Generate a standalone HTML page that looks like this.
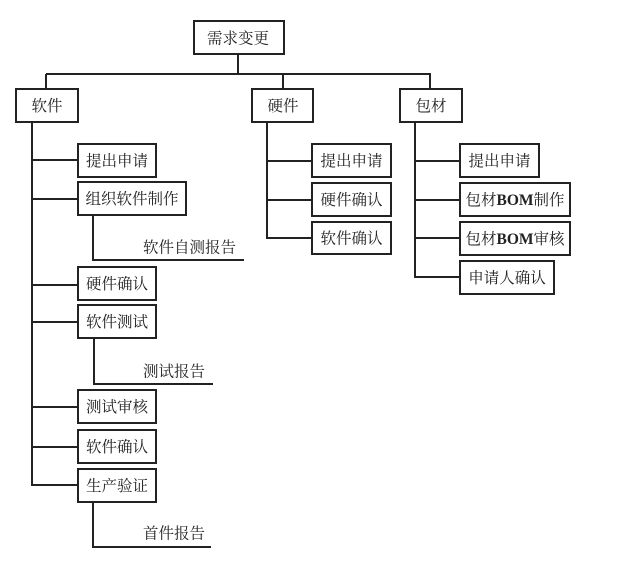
<!DOCTYPE html>
<html><head><meta charset="utf-8"><style>
html,body{margin:0;padding:0;background:#fff;}
svg{display:block;}
text{font-family:"Liberation Serif","Noto Serif CJK SC",serif;font-size:15.5px;fill:#222;}
</style></head><body>
<svg width="624" height="561" viewBox="0 0 624 561" xmlns="http://www.w3.org/2000/svg">
<g stroke="#222" stroke-width="2" fill="none">
<!-- root -->
<rect x="194" y="21" width="90" height="33" fill="#fff"/>
<line x1="238" y1="54" x2="238" y2="74"/>
<line x1="46" y1="74" x2="431" y2="74"/>
<line x1="46" y1="74" x2="46" y2="89"/>
<line x1="283" y1="74" x2="283" y2="89"/>
<line x1="430" y1="74" x2="430" y2="89"/>
<rect x="16" y="89" width="62" height="33"/>
<rect x="252" y="89" width="61" height="33"/>
<rect x="400" y="89" width="62" height="33"/>
<!-- software -->
<line x1="32" y1="122" x2="32" y2="486"/>
<line x1="32" y1="160" x2="78" y2="160"/>
<line x1="32" y1="199" x2="78" y2="199"/>
<line x1="32" y1="285" x2="78" y2="285"/>
<line x1="32" y1="322" x2="78" y2="322"/>
<line x1="32" y1="407" x2="78" y2="407"/>
<line x1="32" y1="447" x2="78" y2="447"/>
<line x1="31" y1="485" x2="78" y2="485"/>
<rect x="78" y="144" width="78" height="33"/>
<rect x="78" y="182" width="108" height="33"/>
<rect x="78" y="267" width="78" height="33"/>
<rect x="78" y="305" width="78" height="33"/>
<rect x="78" y="390" width="78" height="33"/>
<rect x="78" y="430" width="78" height="33"/>
<rect x="78" y="469" width="78" height="33"/>
<polyline points="93,215 93,260 244,260"/>
<polyline points="94,338 94,384 213,384"/>
<polyline points="93,502 93,547 211,547"/>
<!-- hardware -->
<line x1="267" y1="122" x2="267" y2="239"/>
<line x1="267" y1="161" x2="312" y2="161"/>
<line x1="267" y1="200" x2="312" y2="200"/>
<line x1="266" y1="238" x2="312" y2="238"/>
<rect x="312" y="144" width="79" height="33"/>
<rect x="312" y="183" width="79" height="33"/>
<rect x="312" y="222" width="79" height="32"/>
<!-- packaging -->
<line x1="415" y1="122" x2="415" y2="278"/>
<line x1="415" y1="161" x2="460" y2="161"/>
<line x1="415" y1="200" x2="460" y2="200"/>
<line x1="415" y1="238" x2="460" y2="238"/>
<line x1="414" y1="277" x2="460" y2="277"/>
<rect x="460" y="144" width="79" height="33"/>
<rect x="460" y="183" width="110" height="33"/>
<rect x="460" y="222" width="110" height="33"/>
<rect x="460" y="261" width="94" height="33"/>
</g>
<g text-anchor="middle">
<text x="238" y="43.5">需求变更</text>
<text x="47" y="111">软件</text>
<text x="283" y="111">硬件</text>
<text x="431" y="111">包材</text>
<text x="117" y="166">提出申请</text>
<text x="132" y="204">组织软件制作</text>
<text x="117" y="289">硬件确认</text>
<text x="117" y="327">软件测试</text>
<text x="117" y="412">测试审核</text>
<text x="117" y="452">软件确认</text>
<text x="117" y="491">生产验证</text>
<text x="351.5" y="166">提出申请</text>
<text x="351.5" y="205">硬件确认</text>
<text x="351.5" y="243.5">软件确认</text>
<text x="499.5" y="166">提出申请</text>
<text x="515" y="205">包材<tspan font-weight="bold">BOM</tspan>制作</text>
<text x="515" y="244">包材<tspan font-weight="bold">BOM</tspan>审核</text>
<text x="507" y="283">申请人确认</text>
</g>
<text x="143" y="252.5">软件自测报告</text>
<text x="143" y="376.5">测试报告</text>
<text x="143" y="538.5">首件报告</text>
</svg>
</body></html>
